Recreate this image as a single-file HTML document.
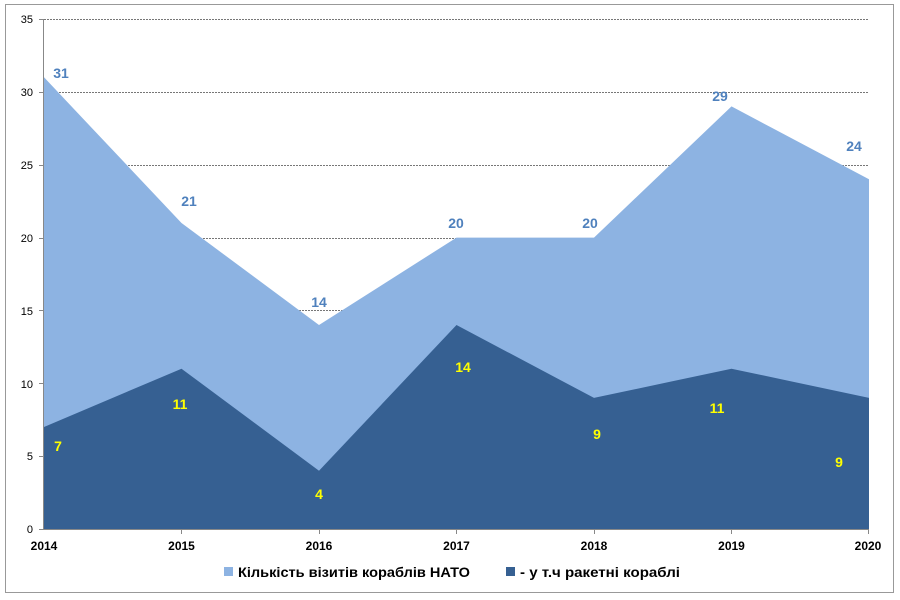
<!DOCTYPE html>
<html><head><meta charset="utf-8"><style>
body{margin:0;background:#fff;width:900px;height:600px;overflow:hidden}
svg{display:block}
text{font-family:"Liberation Sans","DejaVu Sans",sans-serif}
</style></head><body>
<svg width="900" height="600" viewBox="0 0 900 600">
<rect x="5.5" y="4.5" width="888" height="588" fill="#fff" stroke="#999" stroke-width="1"/>
<g stroke="#777" stroke-dasharray="2,1" stroke-width="1">
<line x1="44" y1="19.5" x2="869" y2="19.5"/>
<line x1="44" y1="92.5" x2="869" y2="92.5"/>
<line x1="44" y1="165.5" x2="869" y2="165.5"/>
<line x1="44" y1="238.5" x2="869" y2="238.5"/>
<line x1="44" y1="310.5" x2="869" y2="310.5"/>
<line x1="44" y1="383.5" x2="869" y2="383.5"/>
<line x1="44" y1="456.5" x2="869" y2="456.5"/>
</g>
<polygon fill="#8db3e2" points="44,529 44,77.3 181.5,223 319,325 456.5,237.6 594,237.6 731.5,106.4 869,179.3 869,529"/>
<polygon fill="#366092" points="44,529 44,427 181.5,368.7 319,470.7 456.5,325 594,397.9 731.5,368.7 869,397.9 869,529"/>
<g stroke="#888" stroke-width="1">
<line x1="43.5" y1="19" x2="43.5" y2="529"/>
<line x1="43" y1="529.5" x2="869" y2="529.5"/>
<line x1="39" y1="19.5" x2="44" y2="19.5"/><line x1="39" y1="92.5" x2="44" y2="92.5"/><line x1="39" y1="165.5" x2="44" y2="165.5"/><line x1="39" y1="238.5" x2="44" y2="238.5"/><line x1="39" y1="310.5" x2="44" y2="310.5"/><line x1="39" y1="383.5" x2="44" y2="383.5"/><line x1="39" y1="456.5" x2="44" y2="456.5"/><line x1="39" y1="529.5" x2="44" y2="529.5"/>
<line x1="181.5" y1="529" x2="181.5" y2="534"/><line x1="319.5" y1="529" x2="319.5" y2="534"/><line x1="456.5" y1="529" x2="456.5" y2="534"/><line x1="594.5" y1="529" x2="594.5" y2="534"/><line x1="731.5" y1="529" x2="731.5" y2="534"/><line x1="868.5" y1="529" x2="868.5" y2="534"/>
</g>
<g font-size="11" fill="#000" text-anchor="end">
<text x="33" y="23">35</text><text x="33" y="96">30</text><text x="33" y="169">25</text><text x="33" y="242">20</text><text x="33" y="315">15</text><text x="33" y="388">10</text><text x="33" y="460">5</text><text x="33" y="533">0</text>
</g>
<g font-size="12" font-weight="bold" fill="#000" text-anchor="middle">
<text x="44" y="550">2014</text><text x="181.5" y="550">2015</text><text x="319" y="550">2016</text><text x="456.5" y="550">2017</text><text x="594" y="550">2018</text><text x="731.5" y="550">2019</text><text x="868" y="550">2020</text>
</g>
<g font-size="14" font-weight="bold" fill="#4f81bd" text-anchor="middle">
<text x="61" y="78">31</text><text x="189" y="206">21</text><text x="319" y="307">14</text><text x="456" y="228">20</text><text x="590" y="228">20</text><text x="720" y="101">29</text><text x="854" y="151">24</text>
</g>
<g font-size="14" font-weight="bold" fill="#ffff00" text-anchor="middle">
<text x="58" y="451">7</text><text x="180" y="409">11</text><text x="319" y="499">4</text><text x="463" y="372">14</text><text x="597" y="439">9</text><text x="717" y="413">11</text><text x="839" y="467">9</text>
</g>
<rect x="224" y="567" width="9" height="9" fill="#8db3e2"/>
<text x="238" y="577" font-size="14" font-weight="bold" fill="#000" textLength="232" lengthAdjust="spacingAndGlyphs">Кількість візитів кораблів НАТО</text>
<rect x="506" y="567" width="9" height="9" fill="#366092"/>
<text x="520" y="577" font-size="14" font-weight="bold" fill="#000" textLength="160" lengthAdjust="spacingAndGlyphs">- у т.ч ракетні кораблі</text>
</svg>
</body></html>
